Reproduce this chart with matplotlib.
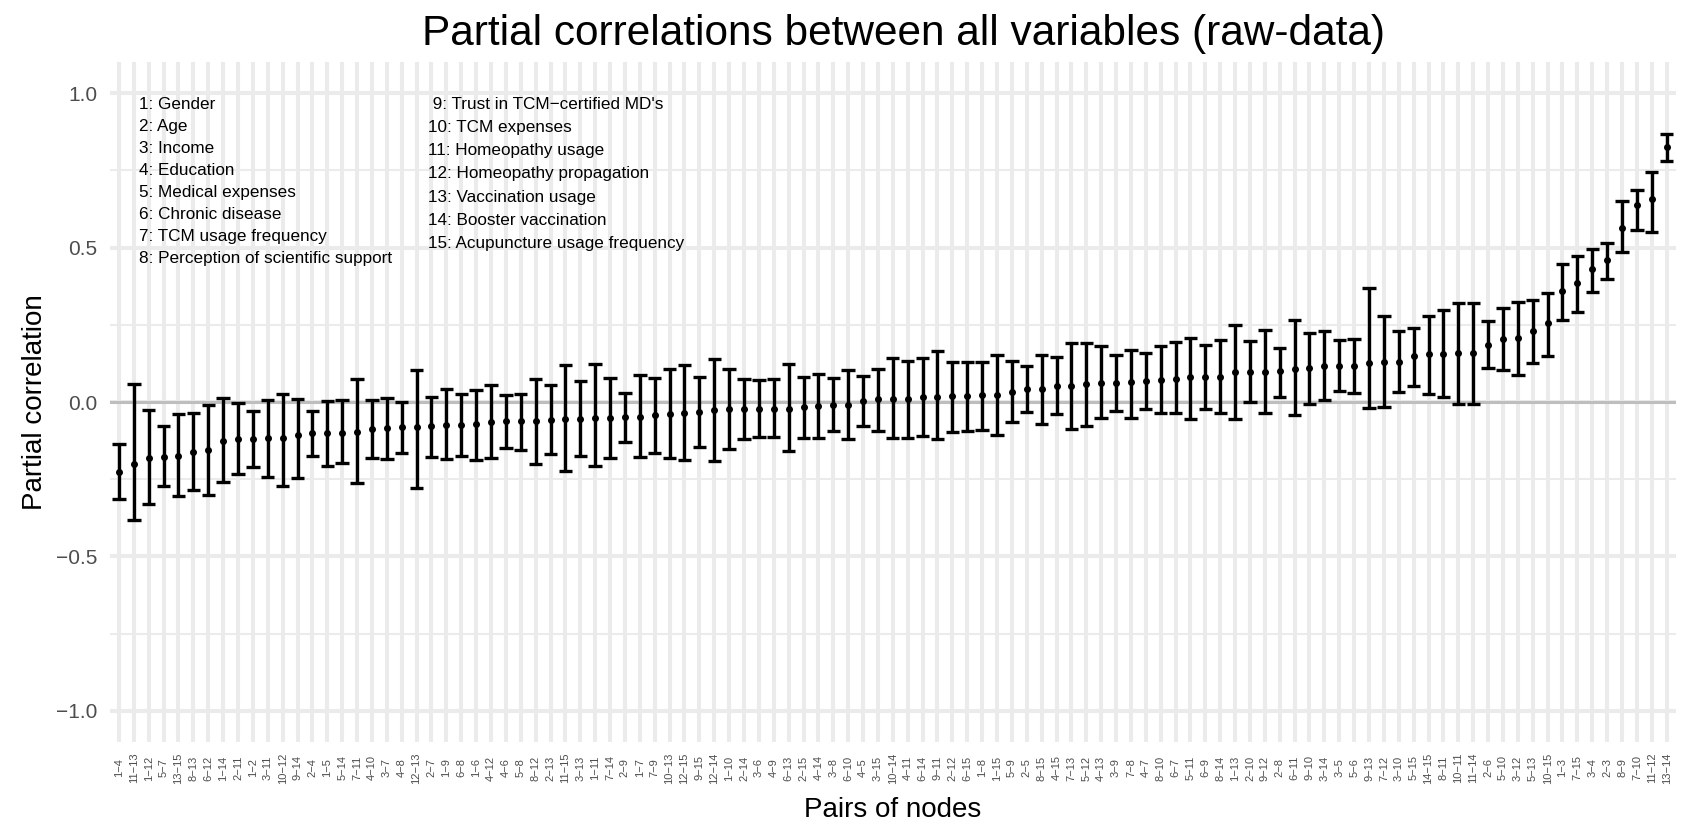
import matplotlib
matplotlib.use("Agg")
import matplotlib.pyplot as plt
import numpy as np

plt.rcParams['font.family'] = ['Liberation Sans', 'DejaVu Sans']

pairs = ["1-4", "11-13", "1-12", "5-7", "13-15", "8-13", "6-12", "1-14", "2-11", "1-2",
         "3-11", "10-12", "9-14", "2-4", "1-5", "5-14", "7-11", "4-10", "3-7", "4-8",
         "12-13", "2-7", "1-9", "6-8", "1-6", "4-12", "4-6", "5-8", "8-12", "2-13",
         "11-15", "3-13", "1-11", "7-14", "2-9", "1-7", "7-9", "10-13", "12-15", "9-15",
         "12-14", "1-10", "2-14", "3-6", "4-9", "6-13", "2-15", "4-14", "3-8", "6-10",
         "4-5", "3-15", "10-14", "4-11", "6-14", "9-11", "2-12", "6-15", "1-8", "1-15",
         "5-9", "2-5", "8-15", "4-15", "7-13", "5-12", "4-13", "3-9", "7-8", "4-7",
         "8-10", "6-7", "5-11", "6-9", "8-14", "1-13", "2-10", "9-12", "2-8", "6-11",
         "9-10", "3-14", "3-5", "5-6", "9-13", "7-12", "3-10", "5-15", "14-15", "8-11",
         "10-11", "11-14", "2-6", "5-10", "3-12", "5-13", "10-15", "1-3", "7-15", "3-4",
         "2-3", "8-9", "7-10", "11-12", "13-14"]

estimate = [-0.226, -0.200, -0.183, -0.178, -0.176, -0.163, -0.155, -0.126, -0.121, -0.121,
            -0.118, -0.116, -0.107, -0.102, -0.101, -0.101, -0.096, -0.089, -0.084, -0.082,
            -0.082, -0.079, -0.074, -0.074, -0.072, -0.065, -0.063, -0.063, -0.063, -0.059,
            -0.056, -0.055, -0.053, -0.052, -0.050, -0.048, -0.043, -0.040, -0.037, -0.034,
            -0.026, -0.024, -0.023, -0.023, -0.022, -0.022, -0.016, -0.012, -0.009, -0.009,
            0.004, 0.010, 0.010, 0.011, 0.015, 0.017, 0.019, 0.019, 0.023, 0.024,
            0.033, 0.041, 0.042, 0.052, 0.053, 0.057, 0.061, 0.061, 0.064, 0.068,
            0.071, 0.076, 0.081, 0.082, 0.082, 0.096, 0.097, 0.098, 0.102, 0.107,
            0.109, 0.117, 0.118, 0.118, 0.126, 0.128, 0.129, 0.150, 0.155, 0.155,
            0.160, 0.160, 0.186, 0.204, 0.206, 0.231, 0.255, 0.358, 0.385, 0.431,
            0.460, 0.562, 0.637, 0.656, 0.826]

upper = [-0.137, 0.059, -0.027, -0.078, -0.040, -0.035, -0.011, 0.014, -0.004, -0.028,
         0.006, 0.025, 0.011, -0.029, 0.003, 0.006, 0.075, 0.006, 0.014, 0.000,
         0.104, 0.015, 0.041, 0.026, 0.039, 0.055, 0.023, 0.026, 0.076, 0.055,
         0.120, 0.067, 0.123, 0.079, 0.030, 0.088, 0.077, 0.106, 0.121, 0.081,
         0.138, 0.108, 0.076, 0.071, 0.076, 0.123, 0.081, 0.091, 0.079, 0.105,
         0.084, 0.106, 0.141, 0.134, 0.142, 0.166, 0.131, 0.131, 0.131, 0.152,
         0.134, 0.115, 0.152, 0.147, 0.190, 0.190, 0.180, 0.153, 0.169, 0.160,
         0.180, 0.193, 0.208, 0.185, 0.200, 0.249, 0.198, 0.234, 0.176, 0.264,
         0.225, 0.229, 0.201, 0.205, 0.368, 0.279, 0.229, 0.240, 0.277, 0.299,
         0.322, 0.322, 0.261, 0.304, 0.324, 0.331, 0.353, 0.447, 0.472, 0.494,
         0.516, 0.650, 0.688, 0.744, 0.869]

lower = [-0.314, -0.383, -0.331, -0.271, -0.305, -0.286, -0.302, -0.259, -0.232, -0.210,
         -0.242, -0.272, -0.246, -0.174, -0.207, -0.199, -0.262, -0.183, -0.186, -0.165,
         -0.280, -0.178, -0.185, -0.174, -0.188, -0.183, -0.148, -0.156, -0.201, -0.170,
         -0.222, -0.174, -0.208, -0.180, -0.129, -0.178, -0.164, -0.180, -0.188, -0.147,
         -0.192, -0.153, -0.121, -0.113, -0.113, -0.158, -0.115, -0.116, -0.093, -0.121,
         -0.077, -0.093, -0.118, -0.118, -0.110, -0.119, -0.096, -0.094, -0.091, -0.107,
         -0.066, -0.033, -0.071, -0.039, -0.088, -0.077, -0.051, -0.029, -0.051, -0.024,
         -0.037, -0.037, -0.056, -0.023, -0.037, -0.056, -0.001, -0.037, 0.017, -0.041,
         -0.007, 0.006, 0.036, 0.028, -0.020, -0.015, 0.031, 0.053, 0.025, 0.017,
         -0.007, -0.008, 0.109, 0.104, 0.088, 0.126, 0.150, 0.266, 0.293, 0.357,
         0.399, 0.486, 0.556, 0.551, 0.782]

y_major = [-1.0, -0.5, 0.0, 0.5, 1.0]
y_major_labels = ["\u22121.0", "\u22120.5", "0.0", "0.5", "1.0"]
y_minor = [-0.75, -0.25, 0.25, 0.75]

legend_left = ["1: Gender", "2: Age", "3: Income", "4: Education", "5: Medical expenses",
               "6: Chronic disease", "7: TCM usage frequency",
               "8: Perception of scientific support"]
legend_right = [" 9: Trust in TCM\u2212certified MD's", "10: TCM expenses",
                "11: Homeopathy usage", "12: Homeopathy propagation",
                "13: Vaccination usage", "14: Booster vaccination",
                "15: Acupuncture usage frequency"]

title = "Partial correlations between all variables (raw-data)"

W, H = 1682, 822
fig = plt.figure(figsize=(W / 100, H / 100), dpi=100)
left, right, top, bottom = 110, 1675.6, 62.4, 741.6
ax = fig.add_axes([left / W, (H - bottom) / H, (right - left) / W, (bottom - top) / H])

n = len(pairs)
x = np.arange(1, n + 1)
est = np.array(estimate)
lo = np.array(lower)
up = np.array(upper)

ax.set_xlim(0.4, n + 0.6)
ax.set_ylim(-1.1, 1.1)
ax.set_facecolor('white')
for s in ax.spines.values():
    s.set_visible(False)

ax.set_xticks(x)
ax.set_xticklabels([p.replace("-", "\u2212") for p in pairs], rotation=90,
                   fontsize=8.0, color='#4D4D4D', va='center', ha='center')
ax.set_yticks(y_major)
ax.set_yticklabels(y_major_labels, fontsize=15, color='#4D4D4D')
ax.set_yticks(y_minor, minor=True)
ax.tick_params(axis='both', which='both', length=0)
ax.tick_params(axis='x', pad=19)
ax.tick_params(axis='y', pad=9)

ax.grid(which='major', color='#EBEBEB', lw=2.9, zorder=0)
ax.grid(which='minor', axis='y', color='#EBEBEB', lw=1.45, zorder=0)
ax.set_axisbelow(True)

ax.axhline(0, color='#BEBEBE', lw=2.2, zorder=1)

ax.vlines(x, lo, up, color='black', lw=2.4, zorder=3, capstyle='butt')
ax.hlines(lo, x - 0.45, x + 0.45, color='black', lw=2.4, zorder=3, capstyle='butt')
ax.hlines(up, x - 0.45, x + 0.45, color='black', lw=2.4, zorder=3, capstyle='butt')
ax.plot(x, est, 'o', ms=4.0, color='black', zorder=4)

for i, t in enumerate(legend_left):
    ax.text(2.38, 0.965 - i * 0.0714, t, fontsize=12.3, ha='left', va='center', color='black')
for i, t in enumerate(legend_right):
    ax.text(21.8, 0.965 - i * 0.0753, t, fontsize=12.3, ha='left', va='center', color='black')

fig.text(903 / W, 1 - 45 / H, title, ha='center', va='baseline', fontsize=30.5)
fig.text(893 / W, 1 - 817 / H, "Pairs of nodes", ha='center', va='baseline', fontsize=20)
fig.text(35 / W, (H - 402) / H, "Partial correlation", ha='center', va='center',
         rotation=90, fontsize=20)

fig.savefig("out.png", dpi=100, facecolor='white')
